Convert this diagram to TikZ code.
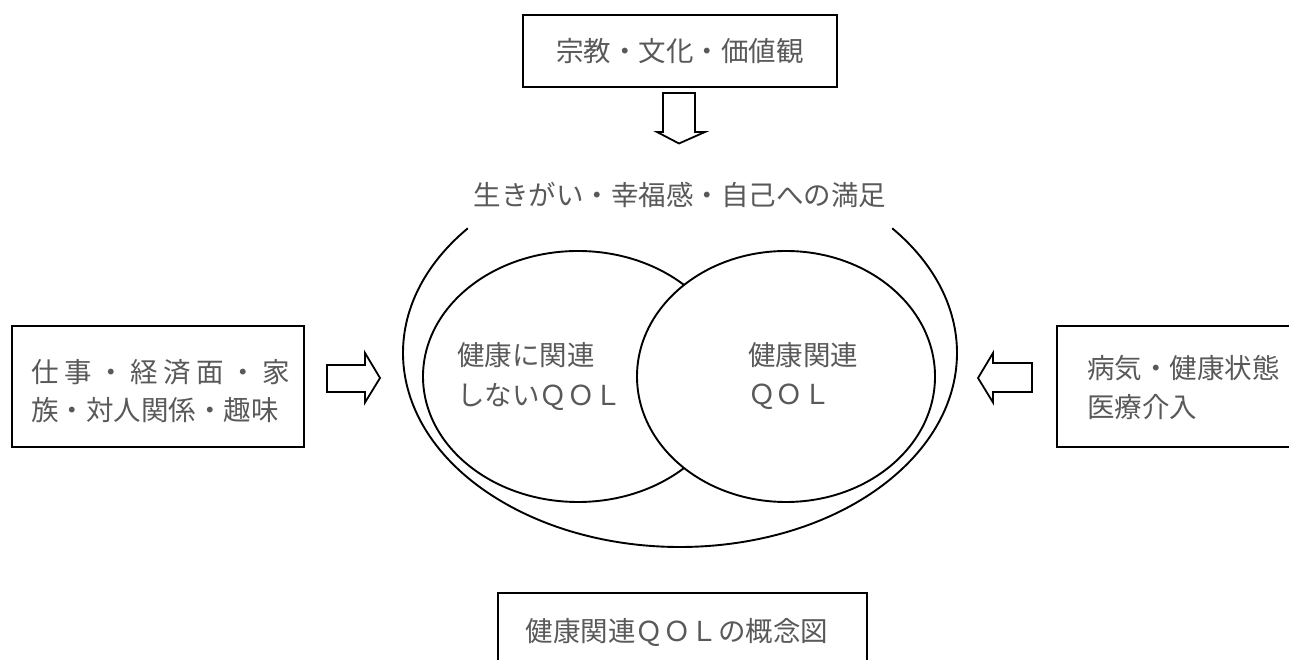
\documentclass[tikz,border=0pt]{standalone}
\usepackage{fontspec}
\setmainfont{Noto Sans CJK JP}
\begin{document}
\begin{tikzpicture}[x=1pt,y=1pt]
\tikzset{
  box/.style={draw, line width=2.3pt, rectangle, inner sep=0pt},
  lbl/.style={text=black!65, font=\fontsize{27.5pt}{32pt}\selectfont, inner sep=0pt},
  ring/.style={line width=1.9pt},
  blockarrow/.style={draw, line width=1.8pt, fill=white, line join=miter},
}
\useasboundingbox (0,0) rectangle (1289,660);
\clip (0,0) rectangle (1289,660);
% top box
\node[box, lbl, minimum width=314pt, minimum height=72pt] (topbox) at (680,609) {宗教・文化・価値観};
% top arrow
\draw[blockarrow] (663,567) -- (695,567) -- (695,528) -- (705,528) -- (679,516.5) -- (657,528) -- (663,528) -- cycle;
% heading sentence
\node[lbl] (ikigai) at (680,465) {生きがい・幸福感・自己への満足};
% outer arc
\coordinate (oc) at (680,307);
\draw[ring] ([shift={(140:277 and 194)}]oc) arc[start angle=140, end angle=400, x radius=277, y radius=194];
% left inner ellipse
\coordinate (lc) at (578,283.5);
\draw[ring] (lc) ellipse[x radius=155, y radius=125.5];
% right inner ellipse
\coordinate (rc) at (786,283.5);
\draw[ring, fill=white] (rc) ellipse[x radius=149, y radius=125.5];
% ellipse texts
\node[lbl, anchor=west] (l1) at (457,305) {健康に関連};
\node[lbl, anchor=west] (l2) at (457,263) {しないＱＯＬ};
\node[lbl, anchor=west] (r1) at (748,305) {健康関連};
\node[lbl, anchor=west] (r2) at (748,263) {ＱＯＬ};
% left box
\node[box, minimum width=292pt, minimum height=121pt] (leftbox) at (158,273.5) {};
\node[lbl, anchor=west] (lt1) at (31,288) {\addfontfeature{LetterSpace=20}仕事・経済面・家};
\node[lbl, anchor=west] (lt2) at (31,250) {族・対人関係・趣味};
% left arrow
\draw[blockarrow] (327,295) -- (365,295) -- (365,307) -- (380,282) -- (365,257.5) -- (365,268) -- (327,268) -- cycle;
% right box
\node[box, minimum width=253pt, minimum height=121pt] (rightbox) at (1183.5,273.5) {};
\node[lbl, anchor=west] (rt1) at (1087,292) {病気・健康状態};
\node[lbl, anchor=west] (rt2) at (1087,253) {医療介入};
% right arrow
\draw[blockarrow] (1032,297) -- (993,297) -- (993,307) -- (978,282) -- (993,257.5) -- (993,268) -- (1032,268) -- cycle;
% bottom box
\node[box, minimum width=369pt, minimum height=97pt] (botbox) at (682.5,18.5) {};
\node[lbl] (bt) at (677,28) {健康関連ＱＯＬの概念図};
\end{tikzpicture}
\end{document}
